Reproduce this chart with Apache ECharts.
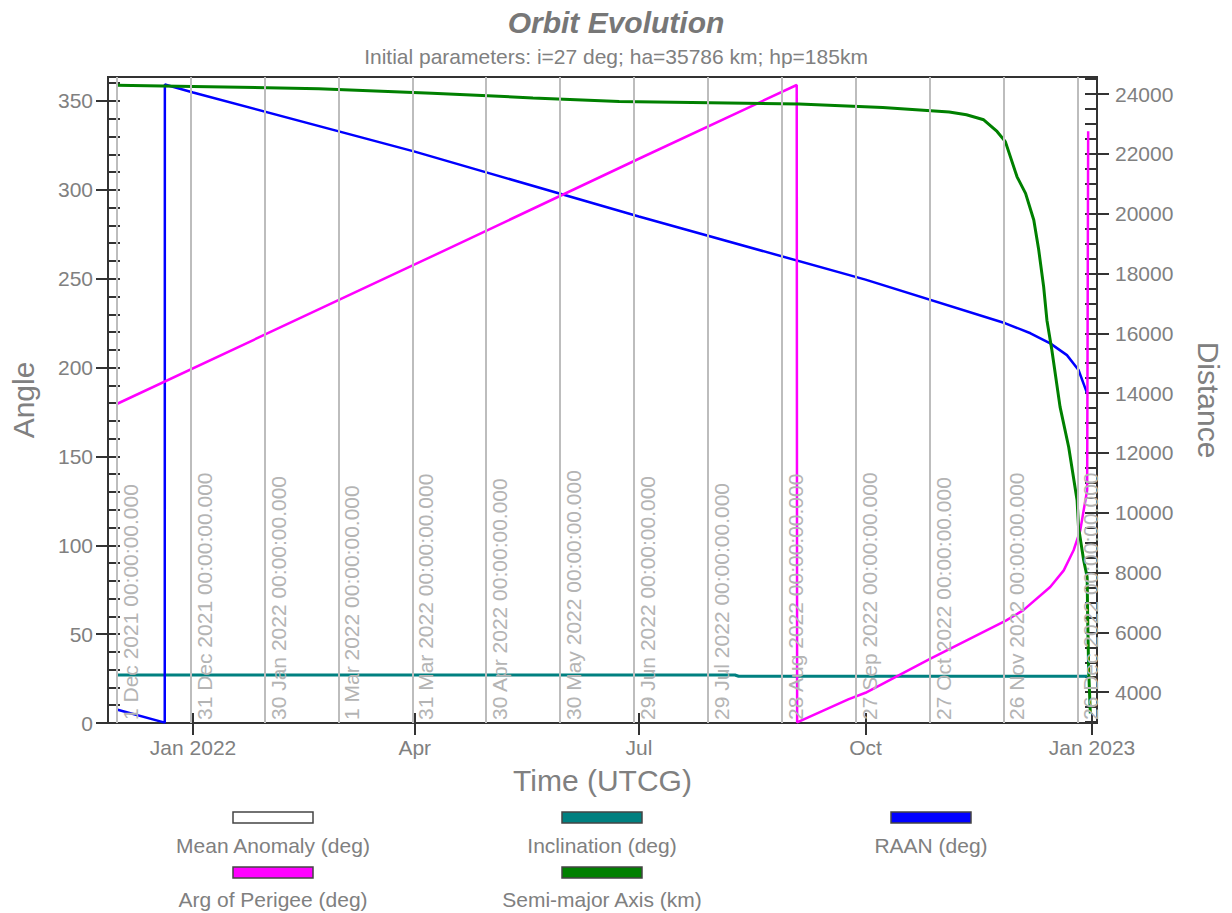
<!DOCTYPE html>
<html><head><meta charset="utf-8">
<script src="https://cdn.jsdelivr.net/npm/echarts@6/dist/echarts.min.js"></script>
<style>html,body{margin:0;padding:0;background:#fff}#c{width:1232px;height:913px}</style>
</head><body><div id="c"></div>
<script>
// ---------- data ----------
const titleText = 'Orbit Evolution';
const subtitleText = 'Initial parameters: i=27 deg; ha=35786 km; hp=185km';
const xAxisName = 'Time (UTCG)';
const leftAxisName = 'Angle';
const rightAxisName = 'Distance';
const seriesNames = ['Mean Anomaly (deg)', 'Inclination (deg)', 'RAAN (deg)', 'Arg of Perigee (deg)', 'Semi-major Axis (km)'];

const meanAnomaly = [];
const inclination = [
  ['2021-12-01', 27.0], ['2022-08-09', 27.0], ['2022-08-10T12:00', 26.3], ['2022-12-30', 26.3]
];
const raan = [
  ['2021-12-01', 7.6], ['2021-12-20T12:00', 0.2], ['2021-12-20T13:00', 359.3], ['2022-01-01', 354.8],
  ['2022-04-01', 321.5], ['2022-07-01', 285.0], ['2022-10-01', 249.5], ['2022-11-26T19:00', 224.9],
  ['2022-12-07', 219.3], ['2022-12-15', 213.6], ['2022-12-21T19:00', 207.0], ['2022-12-26T12:00', 198.6],
  ['2022-12-30', 185.5]
];
const argPerigee = [
  ['2021-12-01', 179.5], ['2022-04-01', 258.0], ['2022-07-01', 317.5], ['2022-09-03T02:00', 359.0],
  ['2022-09-03T06:00', 0.3], ['2022-09-24', 13.3], ['2022-10-01', 17.0], ['2022-10-27', 36.0],
  ['2022-11-27', 57.6], ['2022-12-04', 63.4], ['2022-12-15', 76.5], ['2022-12-20T12:00', 85.9],
  ['2022-12-24T12:00', 97.2], ['2022-12-27T05:00', 108.4], ['2022-12-28T14:00', 119.7],
  ['2022-12-30T00:00', 130.9], ['2022-12-30T10:00', 333.0]
];
const semiMajorAxis = [
  ['2021-12-01', 24290], ['2022-01-01', 24250], ['2022-02-21', 24180], ['2022-04-08', 24030],
  ['2022-05-19', 23870], ['2022-06-23', 23750], ['2022-09-04', 23665], ['2022-10-08', 23550],
  ['2022-11-04', 23400], ['2022-11-11', 23306], ['2022-11-18', 23140], ['2022-11-23T10:00', 22750],
  ['2022-11-26T19:00', 22410], ['2022-12-01T12:00', 21240], ['2022-12-05', 20680],
  ['2022-12-08T08:00', 19790], ['2022-12-10T08:00', 18790], ['2022-12-12T08:00', 17560],
  ['2022-12-13T16:00', 16440], ['2022-12-15T16:00', 15440], ['2022-12-19', 13540],
  ['2022-12-22T12:00', 12200], ['2022-12-25T22:00', 10420], ['2022-12-26T12:00', 9520],
  ['2022-12-28T14:00', 8410], ['2022-12-30T00:00', 7850], ['2022-12-30T05:00', 6510],
  ['2022-12-30T14:00', 4840], ['2022-12-31T07:00', 3290]
];

const angleTicks = [0, 50, 100, 150, 200, 250, 300, 350];
const distanceTicks = [4000, 6000, 8000, 10000, 12000, 14000, 16000, 18000, 20000, 22000, 24000];
const timeTickDates = ['2022-01-01', '2022-04-01', '2022-07-01', '2022-10-01', '2023-01-01'];
const timeTickLabels = ['Jan 2022', 'Apr', 'Jul', 'Oct', 'Jan 2023'];
const epochLineDates = ['2021-12-01', '2021-12-31', '2022-01-30', '2022-03-01', '2022-03-31', '2022-04-30',
  '2022-05-30', '2022-06-29', '2022-07-29', '2022-08-28', '2022-09-27', '2022-10-27', '2022-11-26', '2022-12-26'];
const epochLineLabels = ['1 Dec 2021 00:00:00.000', '31 Dec 2021 00:00:00.000', '30 Jan 2022 00:00:00.000',
  '1 Mar 2022 00:00:00.000', '31 Mar 2022 00:00:00.000', '30 Apr 2022 00:00:00.000', '30 May 2022 00:00:00.000',
  '29 Jun 2022 00:00:00.000', '29 Jul 2022 00:00:00.000', '28 Aug 2022 00:00:00.000', '27 Sep 2022 00:00:00.000',
  '27 Oct 2022 00:00:00.000', '26 Nov 2022 00:00:00.000', '26 Dec 2022 00:00:00.000'];

// ---------- styles ----------
const seriesColors = ['#ffffff', '#008080', '#0000ff', '#ff00ff', '#008000'];
const FONT = 'Liberation Sans, Arial, sans-serif';
const TXT = '#808080';
const AX = '#333333';

function t(s) { return Date.parse(s.length === 10 ? s + 'T00:00:00Z' : s + ':00Z'); }
function conv(arr) { return arr.map(p => [t(p[0]), p[1]]); }

const xMin = t('2021-11-27T11:00');
const xMax = t('2023-01-03T00:00');
const yLMin = 0, yLMax = 363.5;
const yRMin = 2970, yRMax = 24570;
const tickVals = timeTickDates.map(t);
const epochVals = epochLineDates.map(t);
const minorAngle = []; for (let v = 0; v <= 360; v += 10) minorAngle.push(v);
const minorDist = []; for (let v = 3000; v <= 24500; v += 500) minorDist.push(v);

const chart = echarts.init(document.getElementById('c'), null, { renderer: 'svg' });

const baseX = { type: 'value', min: xMin, max: xMax, position: 'bottom', scale: true, splitLine: { show: false } };
const baseYL = { type: 'value', min: yLMin, max: yLMax, position: 'left', splitLine: { show: false } };
const baseYR = { type: 'value', min: yRMin, max: yRMax, position: 'right', splitLine: { show: false } };

const dataSets = [meanAnomaly, inclination, raan, argPerigee, semiMajorAxis];
const series = dataSets.map((d, i) => ({
  name: seriesNames[i], type: 'line', data: conv(d), yAxisIndex: i === 4 ? 1 : 0,
  showSymbol: false, symbol: 'none', z: 3,
  lineStyle: { color: seriesColors[i], width: (i === 1 || i === 4) ? 3 : 2.5 },
  itemStyle: { color: seriesColors[i] }
}));
series.push({
  name: 'epochs', type: 'line', data: [], z: 1, silent: true,
  markLine: {
    silent: true, symbol: 'none', animation: false,
    lineStyle: { color: '#bdbdbd', width: 2, type: 'solid' },
    label: { show: true, position: 'insideStartBottom', color: '#b4b4b4', fontSize: 21, fontFamily: FONT, distance: 3 },
    data: epochVals.map((v, i) => ({ xAxis: v, label: { formatter: epochLineLabels[i] } }))
  }
});

// legend drawn as graphic: icon box above label, three columns
const colCenters = [273, 602, 931];
const legendGraphics = [];
seriesNames.forEach((n, i) => {
  const col = i % 3, row = Math.floor(i / 3);
  legendGraphics.push({
    type: 'rect', shape: { x: colCenters[col] - 40, y: 812 + row * 55, width: 80, height: 11 },
    style: { fill: seriesColors[i], stroke: '#444', lineWidth: 1.5 }
  });
  legendGraphics.push({
    type: 'text', x: colCenters[col], y: 845 + row * 54,
    style: { text: n, fill: TXT, fontSize: 21, fontFamily: FONT, align: 'center', verticalAlign: 'middle' }
  });
});

chart.setOption({
  animation: false,
  backgroundColor: '#ffffff',
  title: {
    text: titleText, subtext: subtitleText, left: 'center', top: 2, itemGap: 9,
    textStyle: { fontSize: 30, fontWeight: 'bold', fontStyle: 'italic', color: '#777777', fontFamily: FONT },
    subtextStyle: { fontSize: 21, color: TXT, fontFamily: FONT }
  },
  grid: { left: 108, right: 135, top: 77, bottom: 190, show: true, borderColor: AX, borderWidth: 2, backgroundColor: '#ffffff' },
  xAxis: [
    Object.assign({}, baseX, {
      name: xAxisName, nameLocation: 'middle', nameGap: 42,
      nameTextStyle: { fontSize: 30, color: TXT, fontFamily: FONT },
      axisLine: { show: true, lineStyle: { color: AX, width: 2 } },
      axisTick: { show: true, inside: false, length: 12, customValues: tickVals, lineStyle: { color: AX, width: 2 } },
      axisLabel: {
        show: true, customValues: tickVals, margin: 14, fontSize: 21, color: TXT, fontFamily: FONT,
        formatter: v => { const k = tickVals.indexOf(v); return k >= 0 ? timeTickLabels[k] : ''; }
      }
    }),
    Object.assign({}, baseX, {
      axisLine: { show: false }, axisLabel: { show: false },
      axisTick: { show: true, inside: true, length: 10, customValues: tickVals, lineStyle: { color: AX, width: 2 } }
    }),
    Object.assign({}, baseX, {
      axisLine: { show: false }, axisLabel: { show: false },
      axisTick: { show: true, inside: true, length: 8, customValues: epochVals, lineStyle: { color: AX, width: 2 } }
    })
  ],
  yAxis: [
    Object.assign({}, baseYL, {
      name: leftAxisName, nameLocation: 'middle', nameGap: 70, nameRotate: 90,
      nameTextStyle: { fontSize: 30, color: TXT, fontFamily: FONT },
      axisLine: { show: true, lineStyle: { color: AX, width: 2 } },
      axisTick: { show: true, inside: false, length: 12, customValues: angleTicks, lineStyle: { color: AX, width: 2 } },
      axisLabel: { show: true, customValues: angleTicks, margin: 15, fontSize: 21, color: TXT, fontFamily: FONT, formatter: v => String(v) }
    }),
    Object.assign({}, baseYR, {
      name: rightAxisName, nameLocation: 'middle', nameGap: 96, nameRotate: -90,
      nameTextStyle: { fontSize: 30, color: TXT, fontFamily: FONT },
      axisLine: { show: true, lineStyle: { color: AX, width: 2 } },
      axisTick: { show: true, inside: false, length: 12, customValues: distanceTicks, lineStyle: { color: AX, width: 2 } },
      axisLabel: { show: true, customValues: distanceTicks, margin: 18, fontSize: 21, color: TXT, fontFamily: FONT, formatter: v => String(v) }
    }),
    Object.assign({}, baseYL, {
      axisLine: { show: false }, axisLabel: { show: false },
      axisTick: { show: true, inside: true, length: 12, customValues: minorAngle, lineStyle: { color: AX, width: 2 } }
    }),
    Object.assign({}, baseYR, {
      axisLine: { show: false }, axisLabel: { show: false },
      axisTick: { show: true, inside: true, length: 12, customValues: minorDist, lineStyle: { color: AX, width: 2 } }
    })
  ],
  series: series,
  graphic: legendGraphics
});
</script>
</body></html>
